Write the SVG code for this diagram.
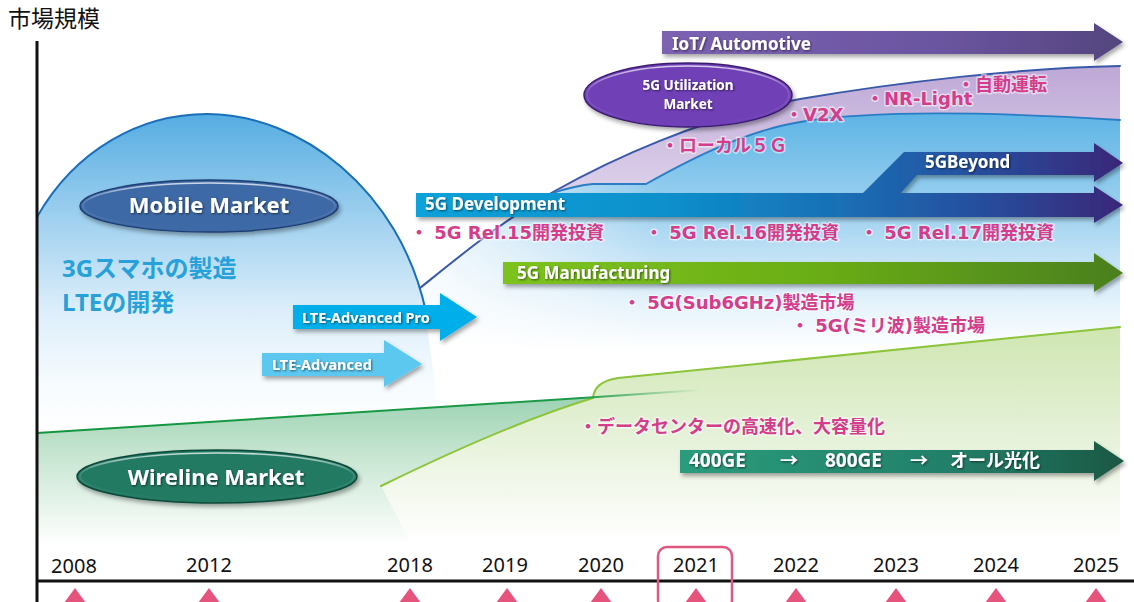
<svg xmlns="http://www.w3.org/2000/svg" width="1134" height="602" viewBox="0 0 1134 602">
  <defs>
    <style>
      .lbl { font-family: "Noto Sans", "Noto Sans CJK JP", sans-serif; font-weight: bold; fill: #ffffff; }
      .pink { font-family: "DejaVu Sans", "Noto Sans CJK JP", sans-serif; font-weight: bold; font-size: 18px; fill: #d43d8b; stroke: #ffffff; stroke-width: 3; stroke-opacity: 0.55; paint-order: stroke; stroke-linejoin: round; }
      .blue { font-family: "Noto Sans", "Noto Sans CJK JP", sans-serif; font-weight: bold; font-size: 24px; fill: #27a1da; }
      .year { font-family: "Noto Sans", "Noto Sans CJK JP", sans-serif; font-size: 20px; fill: #111111; text-anchor: middle; }
      .tick { fill: #e6547e; }
      .rim { fill: none; stroke: url(#rimLight); stroke-width: 1.6; }
    </style>
    <filter id="shadow" x="-10%" y="-30%" width="120%" height="170%">
      <feDropShadow dx="2" dy="3" stdDeviation="2" flood-color="#000000" flood-opacity="0.35"/>
    </filter>
    <filter id="tshadow" x="-10%" y="-30%" width="120%" height="170%">
      <feDropShadow dx="1" dy="1" stdDeviation="0.8" flood-color="#000000" flood-opacity="0.55"/>
    </filter>
    <!-- area fills -->
    <linearGradient id="domeFill" gradientUnits="userSpaceOnUse" x1="0" y1="114" x2="0" y2="430">
      <stop offset="0" stop-color="#55ade2"/>
      <stop offset="0.33" stop-color="#9fd0ef"/>
      <stop offset="0.62" stop-color="#dceefa"/>
      <stop offset="0.85" stop-color="#f6fbfe"/>
      <stop offset="1" stop-color="#ffffff"/>
    </linearGradient>
    <linearGradient id="mobileFill" gradientUnits="userSpaceOnUse" x1="0" y1="116" x2="0" y2="350">
      <stop offset="0" stop-color="#5fb5e6"/>
      <stop offset="0.45" stop-color="#a6d5f1"/>
      <stop offset="0.8" stop-color="#e4f2fb"/>
      <stop offset="1" stop-color="#ffffff"/>
    </linearGradient>
    <linearGradient id="leftFade" gradientUnits="userSpaceOnUse" x1="420" y1="0" x2="660" y2="0">
      <stop offset="0" stop-color="#ffffff" stop-opacity="0.85"/>
      <stop offset="1" stop-color="#ffffff" stop-opacity="0"/>
    </linearGradient>
    <linearGradient id="purpleFill" gradientUnits="userSpaceOnUse" x1="0" y1="66" x2="0" y2="192">
      <stop offset="0" stop-color="#bea8d6"/>
      <stop offset="1" stop-color="#ddd1ea"/>
    </linearGradient>
    <linearGradient id="wireFill" gradientUnits="userSpaceOnUse" x1="0" y1="397" x2="0" y2="545">
      <stop offset="0" stop-color="#9dd3b3"/>
      <stop offset="0.4" stop-color="#c8e6d2"/>
      <stop offset="1" stop-color="#ffffff"/>
    </linearGradient>
    <linearGradient id="ygFill" gradientUnits="userSpaceOnUse" x1="0" y1="327" x2="0" y2="540">
      <stop offset="0" stop-color="#cfe6b1"/>
      <stop offset="0.5" stop-color="#e5f1d8"/>
      <stop offset="1" stop-color="#ffffff"/>
    </linearGradient>
    <linearGradient id="wireStroke" gradientUnits="userSpaceOnUse" x1="37" y1="0" x2="700" y2="0">
      <stop offset="0" stop-color="#12963f"/>
      <stop offset="0.82" stop-color="#1c9a48"/>
      <stop offset="1" stop-color="#1c9a48" stop-opacity="0"/>
    </linearGradient>
    <!-- arrow fills -->
    <linearGradient id="iotGrad" gradientUnits="userSpaceOnUse" x1="662" y1="0" x2="1124" y2="0">
      <stop offset="0" stop-color="#7c62b2"/>
      <stop offset="0.6" stop-color="#6a55a0"/>
      <stop offset="1" stop-color="#54457e"/>
    </linearGradient>
    <linearGradient id="devGrad" gradientUnits="userSpaceOnUse" x1="416" y1="0" x2="1124" y2="0">
      <stop offset="0" stop-color="#0aa2d9"/>
      <stop offset="0.35" stop-color="#0b90cb"/>
      <stop offset="0.6" stop-color="#1a6fb5"/>
      <stop offset="0.78" stop-color="#2551a0"/>
      <stop offset="1" stop-color="#3a2678"/>
    </linearGradient>
    <linearGradient id="mfgGrad" gradientUnits="userSpaceOnUse" x1="503" y1="0" x2="1124" y2="0">
      <stop offset="0" stop-color="#7dc31c"/>
      <stop offset="0.5" stop-color="#6aae18"/>
      <stop offset="1" stop-color="#4a7f1c"/>
    </linearGradient>
    <linearGradient id="geGrad" gradientUnits="userSpaceOnUse" x1="680" y1="0" x2="1124" y2="0">
      <stop offset="0" stop-color="#2b9c7c"/>
      <stop offset="0.6" stop-color="#23806a"/>
      <stop offset="1" stop-color="#1a5844"/>
    </linearGradient>
    <!-- light inner rim of the bevelled ellipses -->
    <linearGradient id="rimLight" x1="0" y1="0" x2="0" y2="1">
      <stop offset="0" stop-color="#ffffff" stop-opacity="0.75"/>
      <stop offset="0.4" stop-color="#ffffff" stop-opacity="0.15"/>
      <stop offset="1" stop-color="#ffffff" stop-opacity="0"/>
    </linearGradient>
  </defs>

  <rect width="1134" height="602" fill="#ffffff"/>

  <!-- market areas -->
  <g id="areas">
    <path id="dome-area" d="M37,217 C75,150 140,114 207,114 C300,114 400,190 424,305 L440,420 L37,440 Z" fill="url(#domeFill)"/>
    <path id="mobile-5g-area" d="M420,288 C450,264 500,222 553,192 C565,189 580,185 593,184 L646,184 C680,165 740,132 800,122 C860,112 960,110 1120,120 L1120,380 L436,380 L424,305 Z" fill="url(#mobileFill)"/>
    <path d="M420,288 C450,264 500,222 553,192 L593,184 L660,184 L660,380 L436,380 L424,305 Z" fill="url(#leftFade)"/>
    <path id="utilization-area" d="M553,192 C610,160 700,118 800,99 C900,82 1020,68 1120,66 L1120,120 C960,110 860,112 800,122 C740,132 680,165 646,184 L593,184 C580,185 565,189 553,192 Z" fill="url(#purpleFill)"/>
    <path id="wireline-area" d="M37,433 L597,397 L700,392 L700,560 L37,560 Z" fill="url(#wireFill)"/>
    <path id="optical-area" d="M381,486 C430,462 520,420 593,398 C594,388 600,381 618,378 L1120,327 L1120,560 L420,560 Z" fill="url(#ygFill)"/>
  </g>

  <!-- area outlines -->
  <g id="connectors" fill="none" stroke-linecap="round">
    <path d="M37,217 C75,150 140,114 207,114 C300,114 400,190 426,312" stroke="#1a6fba" stroke-width="2"/>
    <path d="M420,288 C450,264 500,222 553,192 C610,160 700,118 800,99 C900,82 1020,68 1120,66" stroke="#3a58a8" stroke-width="2"/>
    <path d="M553,193 C565,189 580,185 593,184 L646,184 C680,165 740,132 800,122 C860,112 960,110 1120,120" stroke="#2a7cc4" stroke-width="1.8"/>
    <path d="M381,486 C430,462 520,420 593,398 C594,388 600,381 618,378 L1120,327" stroke="#8cc43c" stroke-width="2"/>
    <path d="M37,433 L597,397 L700,390" stroke="url(#wireStroke)" stroke-width="2"/>
  </g>

  <!-- market ellipses -->
  <g id="mobile-market">
    <ellipse cx="209" cy="206" rx="129" ry="26" fill="#3c69a6" stroke="#1f3f72" stroke-width="1.5" filter="url(#shadow)"/>
    <ellipse class="rim" cx="209" cy="206" rx="126" ry="23"/>
    <text class="lbl" x="209" y="213" font-size="22" text-anchor="middle" filter="url(#tshadow)">Mobile Market</text>
  </g>
  <g id="wireline-market">
    <ellipse cx="217" cy="476.5" rx="140" ry="26.5" fill="#217a62" stroke="#0e4a3a" stroke-width="1.5" filter="url(#shadow)"/>
    <ellipse class="rim" cx="217" cy="476.5" rx="137" ry="23.5"/>
    <text class="lbl" x="216" y="485" font-size="22" text-anchor="middle" filter="url(#tshadow)">Wireline Market</text>
  </g>
  <g id="utilization-market">
    <ellipse cx="688" cy="95" rx="104" ry="32" fill="#6f3fb6" stroke="#3a1a70" stroke-width="1.5" filter="url(#shadow)"/>
    <ellipse class="rim" cx="688" cy="95" rx="101" ry="29"/>
    <text class="lbl" x="688" y="89.5" font-size="13.5" text-anchor="middle" filter="url(#tshadow)">5G Utilization</text>
    <text class="lbl" x="688" y="108.5" font-size="13.5" text-anchor="middle" filter="url(#tshadow)">Market</text>
  </g>

  <!-- technology arrows -->
  <g id="arrow-iot">
    <polygon points="662,31 1094,31 1094,23 1123,42 1094,61 1094,54 662,54" fill="url(#iotGrad)" filter="url(#shadow)"/>
    <text class="lbl" x="672" y="50" font-size="17" filter="url(#tshadow)">IoT/ Automotive</text>
  </g>
  <g id="arrow-5g-beyond">
    <polygon points="862,194 904,152 1094,152 1094,143 1123,163 1094,182 1094,175 917,175 900,194" fill="url(#devGrad)" filter="url(#shadow)"/>
    <text class="lbl" x="925" y="168" font-size="17" filter="url(#tshadow)">5GBeyond</text>
  </g>
  <g id="arrow-5g-development">
    <polygon points="416,193 1094,193 1094,186 1123,205 1094,223 1094,217 416,217" fill="url(#devGrad)" filter="url(#shadow)"/>
    <text class="lbl" x="425" y="210" font-size="17" filter="url(#tshadow)">5G Development</text>
  </g>
  <g id="arrow-5g-manufacturing">
    <polygon points="503,262 1094,262 1094,253 1123,273 1094,292 1094,284 503,284" fill="url(#mfgGrad)" filter="url(#shadow)"/>
    <text class="lbl" x="517" y="279" font-size="17" filter="url(#tshadow)">5G Manufacturing</text>
  </g>
  <g id="arrow-lte-advanced-pro">
    <polygon points="293,305 440,305 440,293 477,317 440,341 440,329 293,329" fill="#00aeea" filter="url(#shadow)"/>
    <text class="lbl" x="302" y="323" font-size="14.5" filter="url(#tshadow)">LTE-Advanced Pro</text>
  </g>
  <g id="arrow-lte-advanced">
    <polygon points="262,353 384,353 384,340 422,364 384,387 384,376 262,376" fill="#5cc7ef" filter="url(#shadow)"/>
    <text class="lbl" x="272" y="370" font-size="14.5" filter="url(#tshadow)">LTE-Advanced</text>
  </g>
  <g id="arrow-ethernet">
    <polygon points="680,450 1094,450 1094,441 1124,461 1094,481 1094,473 680,473" fill="url(#geGrad)" filter="url(#shadow)"/>
    <g filter="url(#tshadow)">
      <text class="lbl" x="689" y="467" font-size="19">400GE</text>
      <text class="lbl" x="780" y="467" font-size="18">→</text>
      <text class="lbl" x="825" y="467" font-size="19">800GE</text>
      <text class="lbl" x="910" y="467" font-size="18">→</text>
      <text class="lbl" x="950" y="467" font-size="18">オール光化</text>
    </g>
  </g>

  <!-- notes -->
  <g id="notes">
    <text class="blue" x="62" y="277">3Gスマホの製造</text>
    <text class="blue" x="62" y="311">LTEの開発</text>
    <text class="pink" x="661" y="152">・ローカル５Ｇ</text>
    <text class="pink" x="785" y="121">・V2X</text>
    <text class="pink" x="866" y="105">・NR-Light</text>
    <text class="pink" x="957" y="91">・自動運転</text>
    <text class="pink" x="410" y="239">・ 5G Rel.15開発投資</text>
    <text class="pink" x="645" y="239">・ 5G Rel.16開発投資</text>
    <text class="pink" x="860" y="239">・ 5G Rel.17開発投資</text>
    <text class="pink" x="623" y="309">・ 5G(Sub6GHz)製造市場</text>
    <text class="pink" x="791" y="332">・ 5G(ミリ波)製造市場</text>
    <text class="pink" x="579" y="433">・データセンターの高速化、大容量化</text>
  </g>

  <!-- axes and timeline -->
  <g id="axis">
    <text x="8" y="27" font-family="'Noto Sans CJK JP', sans-serif" font-size="23" fill="#111111">市場規模</text>
    <line x1="37" y1="41" x2="37" y2="602" stroke="#111111" stroke-width="3"/>
    <line x1="36" y1="581" x2="1134" y2="581" stroke="#111111" stroke-width="3"/>
    <rect x="658" y="547" width="74" height="62" rx="9" fill="none" stroke="#e0577f" stroke-width="2.5"/>
    <text class="year" x="74" y="573">2008</text>
    <text class="year" x="209" y="572">2012</text>
    <text class="year" x="410" y="572">2018</text>
    <text class="year" x="505" y="572">2019</text>
    <text class="year" x="601" y="572">2020</text>
    <text class="year" x="696" y="572">2021</text>
    <text class="year" x="796" y="572">2022</text>
    <text class="year" x="896" y="572">2023</text>
    <text class="year" x="996" y="572">2024</text>
    <text class="year" x="1096" y="572">2025</text>
    <g class="tick">
      <polygon points="75,588 86,603 64,603"/>
      <polygon points="209,588 220,603 198,603"/>
      <polygon points="410,588 421,603 399,603"/>
      <polygon points="507,588 518,603 496,603"/>
      <polygon points="601,588 612,603 590,603"/>
      <polygon points="696,588 707,603 685,603"/>
      <polygon points="796,588 807,603 785,603"/>
      <polygon points="896,588 907,603 885,603"/>
      <polygon points="996,588 1007,603 985,603"/>
      <polygon points="1096,588 1107,603 1085,603"/>
    </g>
  </g>
</svg>
